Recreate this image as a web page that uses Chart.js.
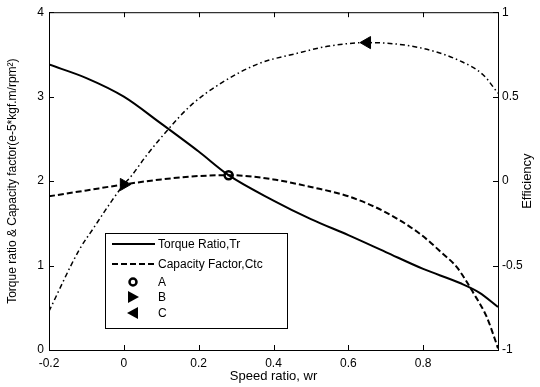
<!DOCTYPE html>
<html>
<head>
<meta charset="utf-8">
<script src="https://cdn.jsdelivr.net/npm/chart.js@4.4.0/dist/chart.umd.min.js"></script>
<style>
  html, body { margin: 0; padding: 0; background: #fff; }
  #wrap { width: 540px; height: 387px; }
</style>
</head>
<body>
<div id="wrap"><canvas id="myChart" width="540" height="387"></canvas></div>
<script>
// data
const xTicks = [-0.2, 0, 0.2, 0.4, 0.6, 0.8, 1]
const leftTicks = [0, 1, 2, 3, 4]
const rightTicks = [-1, -0.5, 0, 0.5, 1]

const torqueX = [-0.2, -0.1, 0, 0.1, 0.2, 0.28, 0.4, 0.5, 0.6, 0.7, 0.8, 0.9, 0.95, 1.0]
const torqueY = [3.38, 3.22, 3.0, 2.68, 2.35, 2.07, 1.77, 1.55, 1.36, 1.16, 0.96, 0.79, 0.68, 0.51]

const capX = [-0.2, -0.1, 0, 0.1, 0.2, 0.28, 0.4, 0.5, 0.6, 0.7, 0.79, 0.85, 0.89, 0.935, 0.97, 0.99, 1.0]
const capY = [1.82, 1.89, 1.96, 2.02, 2.06, 2.07, 2.02, 1.93, 1.82, 1.63, 1.38, 1.15, 0.98, 0.67, 0.39, 0.15, 0.02]

const effX = [-0.2, -0.12, -0.08, -0.03, 0, 0.02, 0.06, 0.12, 0.18, 0.26, 0.36, 0.46, 0.55, 0.65, 0.79, 0.9, 0.96, 1.0]
const effY = [-0.77, -0.41, -0.275, -0.11, -0.02, 0.03, 0.15, 0.31, 0.45, 0.58, 0.695, 0.755, 0.8, 0.82, 0.79, 0.71, 0.63, 0.52]

const markerNames = ['A', 'B', 'C']
const markerX = [0.28, 0, 0.65]
const markerY = [2.07, 1.96, 0.82]
const markerAxis = ['y', 'y', 'y2']

const toPts = (xs, ys) => xs.map((x, i) => ({ x: x, y: ys[i] }))

const FONT = 'Liberation Sans, Arial, sans-serif'

// inward ticks, box, right title and legend (drawn inside plot like matlab)
const decor = {
  id: 'decor',
  afterDraw: function (chart) {
    const ctx = chart.ctx
    const a = chart.chartArea
    const sx = chart.scales.x, sy = chart.scales.y, sy2 = chart.scales.y2
    ctx.save()
    ctx.strokeStyle = '#000'
    ctx.lineWidth = 1
    ctx.strokeRect(a.left + 0.5, a.top + 0.5, a.right - a.left, a.bottom - a.top)
    ctx.beginPath()
    xTicks.forEach(v => {
      const px = Math.round(sx.getPixelForValue(v)) + 0.5
      ctx.moveTo(px, a.bottom); ctx.lineTo(px, a.bottom - 5)
      ctx.moveTo(px, a.top); ctx.lineTo(px, a.top + 5)
    })
    leftTicks.forEach(v => {
      const py = Math.round(sy.getPixelForValue(v)) + 0.5
      ctx.moveTo(a.left, py); ctx.lineTo(a.left + 5, py)
    })
    rightTicks.forEach(v => {
      const py = Math.round(sy2.getPixelForValue(v)) + 0.5
      ctx.moveTo(a.right, py); ctx.lineTo(a.right - 5, py)
    })
    ctx.stroke()

    // right axis title, reads bottom to top
    ctx.fillStyle = '#000'
    ctx.font = '13px ' + FONT
    ctx.textAlign = 'center'
    ctx.textBaseline = 'middle'
    ctx.translate(527, (a.top + a.bottom) / 2)
    ctx.rotate(-Math.PI / 2)
    ctx.fillText('Efficiency', 0, 0)
    ctx.restore()

    // legend
    ctx.save()
    const bx = 105, by = 233, bw = 182, bh = 95
    ctx.fillStyle = '#fff'
    ctx.fillRect(bx, by, bw, bh)
    ctx.strokeStyle = '#000'
    ctx.lineWidth = 1
    ctx.strokeRect(bx + 0.5, by + 0.5, bw, bh)
    const rows = [244, 264, 282, 297, 313]
    const labels = ['Torque Ratio,Tr', 'Capacity Factor,Ctc'].concat(markerNames)
    ctx.lineWidth = 2
    ctx.beginPath(); ctx.moveTo(112, rows[0]); ctx.lineTo(155, rows[0]); ctx.stroke()
    ctx.setLineDash([6, 3])
    ctx.beginPath(); ctx.moveTo(112, rows[1]); ctx.lineTo(155, rows[1]); ctx.stroke()
    ctx.setLineDash([])
    // A circle
    ctx.lineWidth = 2.5
    ctx.beginPath(); ctx.arc(133, rows[2], 3.5, 0, Math.PI * 2); ctx.stroke()
    // B right triangle, C left triangle
    ctx.fillStyle = '#000'
    ctx.beginPath(); ctx.moveTo(139, rows[3]); ctx.lineTo(128, rows[3] - 6); ctx.lineTo(128, rows[3] + 6); ctx.closePath(); ctx.fill()
    ctx.beginPath(); ctx.moveTo(127, rows[4]); ctx.lineTo(138, rows[4] - 6); ctx.lineTo(138, rows[4] + 6); ctx.closePath(); ctx.fill()
    ctx.font = '12px ' + FONT
    ctx.textAlign = 'left'
    ctx.textBaseline = 'middle'
    labels.forEach((t, i) => ctx.fillText(t, 158, rows[i] + 1))
    ctx.restore()
  },
}

window.onload = function () {
  const ctx = document.getElementById('myChart')

  const markerSets = markerNames.map((n, i) => ({
    label: n,
    data: [{ x: markerX[i], y: markerY[i] }],
    yAxisID: markerAxis[i],
    showLine: false,
    pointStyle: i === 0 ? 'circle' : 'triangle',
    pointRotation: i === 1 ? 90 : (i === 2 ? -90 : 0),
    pointRadius: i === 0 ? 4 : 7,
    pointBorderWidth: i === 0 ? 2.5 : 1,
    pointBackgroundColor: i === 0 ? '#fff' : '#000',
    pointBorderColor: '#000',
  }))

  const myChart = new Chart(ctx, {
    type: 'scatter',
    data: {
      datasets: [
        {
          label: 'Torque Ratio,Tr',
          data: toPts(torqueX, torqueY),
          yAxisID: 'y',
          showLine: true,
          borderColor: '#000',
          borderWidth: 2,
          pointRadius: 0,
          cubicInterpolationMode: 'monotone',
        },
        {
          label: 'Capacity Factor,Ctc',
          data: toPts(capX, capY),
          yAxisID: 'y',
          showLine: true,
          borderColor: '#000',
          borderWidth: 2,
          borderDash: [6, 3],
          pointRadius: 0,
          cubicInterpolationMode: 'monotone',
        },
        {
          label: 'Efficiency',
          data: toPts(effX, effY),
          yAxisID: 'y2',
          showLine: true,
          borderColor: '#000',
          borderWidth: 1.5,
          borderDash: [5, 3, 1.5, 3],
          pointRadius: 0,
          cubicInterpolationMode: 'monotone',
        },
      ].concat(markerSets),
    },
    options: {
      responsive: false,
      animation: false,
      layout: { padding: { top: 11, left: 0, right: 0, bottom: 0 } },
      plugins: { legend: { display: false }, tooltip: { enabled: false } },
      scales: {
        x: {
          type: 'linear',
          min: -0.2,
          max: 1,
          afterBuildTicks: s => { s.ticks = xTicks.map(v => ({ value: v })) },
          afterFit: s => { s.height = 37 },
          grid: { display: false, drawTicks: false },
          border: { display: false },
          ticks: {
            color: '#000',
            padding: 6,
            maxRotation: 0,
            autoSkip: false,
            font: { family: FONT, size: 12 },
            callback: v => (v === 1 ? '' : String(v)),
          },
          title: {
            display: true,
            text: 'Speed ratio, wr',
            color: '#000',
            font: { family: FONT, size: 13 },
            padding: { top: 0, bottom: 3 },
          },
        },
        y: {
          position: 'left',
          min: 0,
          max: 4,
          afterBuildTicks: s => { s.ticks = leftTicks.map(v => ({ value: v })) },
          afterFit: s => { s.width = 49 },
          grid: { display: false, drawTicks: false },
          border: { display: false },
          ticks: {
            color: '#000',
            padding: 5,
            font: { family: FONT, size: 12 },
            callback: v => String(v),
          },
          title: {
            display: true,
            text: 'Torque ratio & Capacity factor(e-5*kgf.m/rpm²)',
            color: '#000',
            font: { family: FONT, size: 12 },
            padding: { top: 5, bottom: 0 },
          },
        },
        y2: {
          position: 'right',
          min: -1,
          max: 1,
          afterBuildTicks: s => { s.ticks = rightTicks.map(v => ({ value: v })) },
          afterFit: s => { s.width = 42 },
          grid: { display: false, drawTicks: false },
          border: { display: false },
          ticks: {
            color: '#000',
            padding: 4,
            font: { family: FONT, size: 12 },
            callback: v => String(v),
          },
        },
      },
    },
    plugins: [decor],
  })
}
</script>
</body>
</html>
